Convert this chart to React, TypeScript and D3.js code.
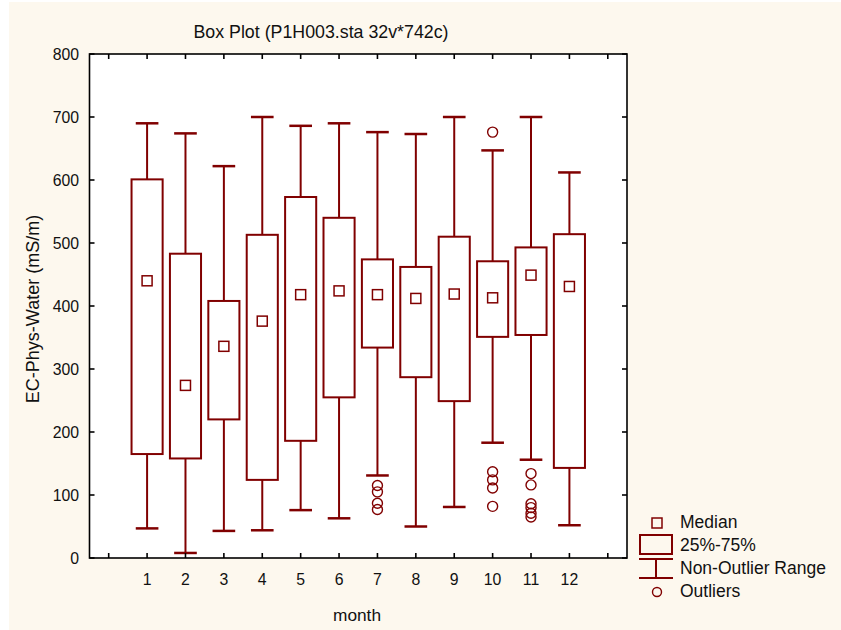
import React from "react";
import * as d3 from "d3";

const months = [1, 2, 3, 4, 5, 6, 7, 8, 9, 10, 11, 12];
const whiskerHigh = [690, 674, 622, 700, 686, 690, 676, 673, 700, 647, 700, 612];
const q3 = [601, 483, 408, 513, 573, 540, 474, 462, 510, 471, 493, 514];
const medians = [440, 274, 336, 376, 418, 424, 418, 412, 419, 413, 449, 431];
const q1 = [165, 158, 220, 124, 186, 255, 334, 287, 249, 351, 354, 143];
const whiskerLow = [47, 8, 43, 44, 76, 63, 131, 50, 81, 183, 156, 52];
const outliers: number[][] = [
  [], [], [], [], [], [],
  [115, 105, 87, 77],
  [], [],
  [676, 137, 124, 111, 82],
  [134, 116, 86, 80, 71, 65],
  [],
];
const yTicks = [0, 100, 200, 300, 400, 500, 600, 700, 800];
const xTicks = [0, 1, 2, 3, 4, 5, 6, 7, 8, 9, 10, 11, 12, 13];
const title = "Box Plot (P1H003.sta 32v*742c)";
const xLabel = "month";
const yLabel = "EC-Phys-Water (mS/m)";
const legendItems = ["Median", "25%-75%", "Non-Outlier Range", "Outliers"];

const C = "#800000";
const FONT = "'Liberation Sans', Arial, sans-serif";

export default function App() {
  const L = 89.5, R = 627, T = 54, B = 558;
  const x = d3.scaleLinear().domain([-0.5, 13.5]).range([L, R]);
  const y = d3.scaleLinear().domain([0, 800]).range([B, T]);
  const step = x(1) - x(0);
  const bw = step * 0.81;
  const cw = step * 0.59;
  const tk = 5;

  return (
    <div style={{ position: "absolute", left: 0, top: 0 }}>
      <svg width={841} height={630} style={{ display: "block" }}>
        <rect x={0} y={0} width={841} height={630} fill="#ffffff" />
        <rect x={9} y={2} width={832} height={628} fill="#fdf8ee" />
        <rect x={L} y={T} width={R - L} height={B - T} fill="#ffffff" />
        <text x={321} y={38} textAnchor="middle" fontFamily={FONT} fontSize={17.8} fill="#111">{title}</text>

        {/* boxes */}
        {months.map((m, i) => {
          const cx = x(m);
          return (
            <g key={m} stroke={C} fill="none" strokeWidth={2}>
              <line x1={cx} x2={cx} y1={y(whiskerHigh[i])} y2={y(q3[i])} />
              <line x1={cx} x2={cx} y1={y(q1[i])} y2={y(whiskerLow[i])} />
              <line x1={cx - cw / 2} x2={cx + cw / 2} y1={y(whiskerHigh[i])} y2={y(whiskerHigh[i])} strokeWidth={2.5} />
              <line x1={cx - cw / 2} x2={cx + cw / 2} y1={y(whiskerLow[i])} y2={y(whiskerLow[i])} strokeWidth={2.5} />
              <rect x={cx - bw / 2} y={y(q3[i])} width={bw} height={y(q1[i]) - y(q3[i])} fill="#fff" />
              <rect x={cx - 5} y={y(medians[i]) - 5} width={10} height={10} strokeWidth={1.5} />
              {outliers[i].map((v, j) => (
                <circle key={j} cx={cx} cy={y(v)} r={5} strokeWidth={1.4} />
              ))}
            </g>
          );
        })}

        {/* frame and ticks */}
        <g stroke="#000" strokeWidth={1.6}>
          <rect x={L} y={T} width={R - L} height={B - T} fill="none" />
          {yTicks.map((t) => (
            <g key={t}>
              <line x1={L} x2={L + tk} y1={y(t)} y2={y(t)} />
              <line x1={R} x2={R - tk} y1={y(t)} y2={y(t)} />
            </g>
          ))}
          {xTicks.map((t) => (
            <g key={t}>
              <line x1={x(t)} x2={x(t)} y1={B} y2={B - tk} />
              <line x1={x(t)} x2={x(t)} y1={T} y2={T + tk} />
            </g>
          ))}
        </g>
        {yTicks.map((t) => (
          <text key={t} x={79} y={y(t)} dy="0.35em" textAnchor="end" fontFamily={FONT} fontSize={15.8} fill="#111">{t}</text>
        ))}
        {months.map((m) => (
          <text key={m} x={x(m)} y={585} textAnchor="middle" fontFamily={FONT} fontSize={15.8} fill="#111">{m}</text>
        ))}
        <text x={357} y={621} textAnchor="middle" fontFamily={FONT} fontSize={17.3} fill="#111">{xLabel}</text>
        <text transform={`translate(39,${(T + B) / 2 + 3}) rotate(-90)`} textAnchor="middle" fontFamily={FONT} fontSize={18} fill="#111">{yLabel}</text>

        {/* legend */}
        <g stroke={C} fill="none" strokeWidth={2}>
          <rect x={652} y={518} width={10} height={10} strokeWidth={1.5} />
          <rect x={640} y={535} width={32} height={19} />
          <line x1={639} x2={673} y1={559} y2={559} />
          <line x1={656} x2={656} y1={559} y2={578} />
          <line x1={639} x2={673} y1={578} y2={578} />
          <circle cx={657} cy={592} r={4.5} strokeWidth={1.4} />
        </g>
        {legendItems.map((s, i) => (
          <text key={s} x={680} y={528 + i * 23} fontFamily={FONT} fontSize={17.5} fill="#111">{s}</text>
        ))}
      </svg>
    </div>
  );
}
